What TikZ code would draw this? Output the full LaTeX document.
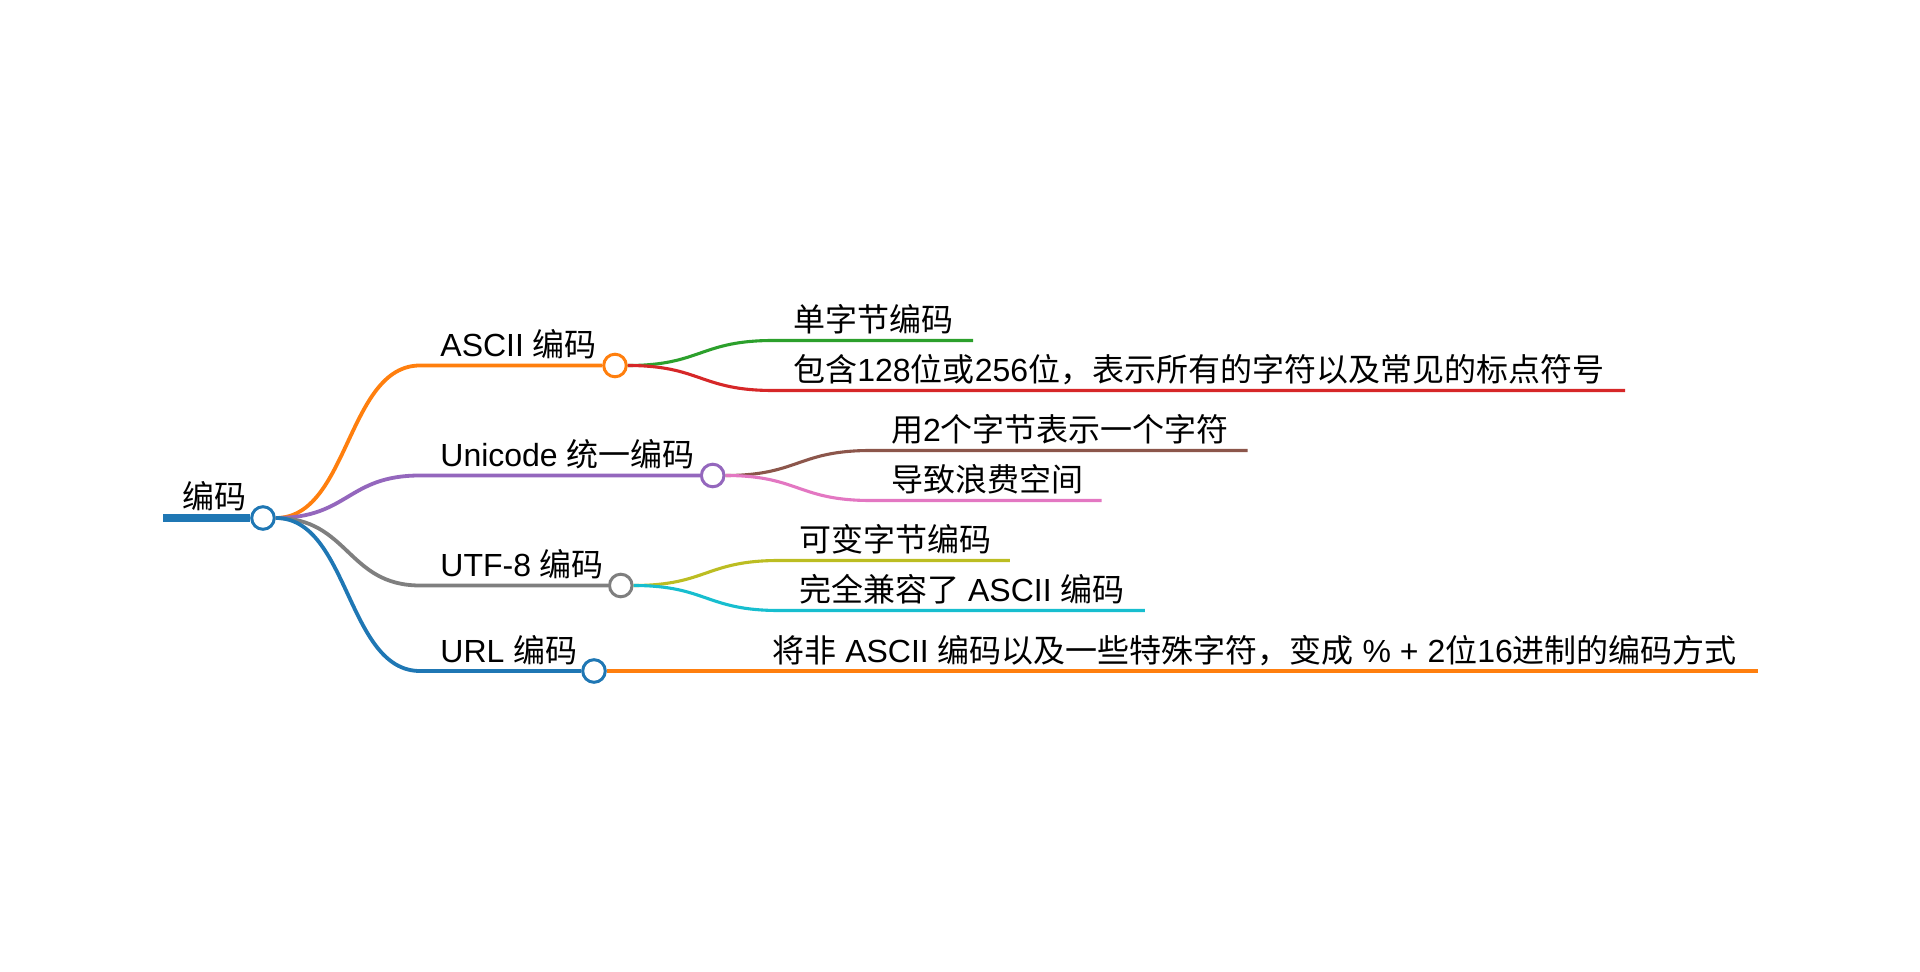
\documentclass[tikz,border=0pt]{standalone}
\usepackage{fontspec}
\setmainfont{Liberation Sans}
\newfontfamily\zh{Noto Sans CJK SC}
\usetikzlibrary{calc, positioning}

\definecolor{mmblue}{HTML}{1F77B4}
\definecolor{mmorange}{HTML}{FF7F0E}
\definecolor{mmgreen}{HTML}{2CA02C}
\definecolor{mmred}{HTML}{D62728}
\definecolor{mmpurple}{HTML}{9467BD}
\definecolor{mmbrown}{HTML}{8C564B}
\definecolor{mmpink}{HTML}{E377C2}
\definecolor{mmgray}{HTML}{7F7F7F}
\definecolor{mmolive}{HTML}{BCBD22}
\definecolor{mmcyan}{HTML}{17BECF}

\begin{document}
\begin{tikzpicture}[
    x=0.5pt, y=-0.5pt,
    font=\fontsize{16}{19}\selectfont,
    knob/.style={
        circle,
        draw=#1,
        fill=white,
        line width=1.5pt,
        inner sep=0pt,
        minimum size=11.3pt
    },
    trunk/.style={
        draw=#1,
        line width=1.9pt
    },
    twig/.style={
        draw=#1,
        line width=1.55pt
    },
    txt/.style={
        anchor=base west,
        inner sep=0pt
    }
]
    \useasboundingbox (0,0) rectangle (1920,972);

    % Root
    \coordinate (stem) at (163,518);
    \node [knob=mmblue] (root) at (263,518) {};
    \draw [line width=3.6pt, mmblue] (stem) -- (root);
    \node [txt] (topic) at ($(stem)+(19,-9)$) {\zh 编码};

    % First level
    \foreach \br/\x/\y/\col/\txt in {
        ascii/615/365.5/mmorange/{ASCII {\zh 编码}},
        unicode/712.7/475.5/mmpurple/{Unicode {\zh 统一编码}},
        utf/620.8/585.5/mmgray/{UTF-8 {\zh 编码}},
        url/594/671/mmblue/{URL {\zh 编码}}
    }{
        \node [knob=\col] (\br) at (\x,\y) {};
        \coordinate (\br-in) at (420,\y);
        \draw [trunk=\col] (root.east) .. controls +(73,0) and +(-73,0) .. (\br-in) -- (\br);
        \node [txt] (\br-text) at ($(\br-in)+(20,-9)$) {\txt};
    }

    % Second level
    \foreach \br/\dy/\run/\col/\txt [count=\k] in {
        ascii/-25/200/mmgreen/{\zh 单字节编码},
        ascii/25/852/mmred/{{\zh 包含}128{\zh 位或}256{\zh 位，表示所有的字符以及常见的标点符号}},
        unicode/-25/377/mmbrown/{{\zh 用}2{\zh 个字节表示一个字符}},
        unicode/25/231/mmpink/{\zh 导致浪费空间},
        utf/-25/231/mmolive/{\zh 可变字节编码},
        utf/25/366/mmcyan/{{\zh 完全兼容了} ASCII {\zh 编码}},
        url/0/1006/mmorange/{{\zh 将非} ASCII {\zh 编码以及一些特殊字符，变成} \% + 2{\zh 位}16{\zh 进制的编码方式}}
    }{
        \coordinate (leaf\k-in) at ($(\br)+(158,\dy)$);
        \draw [twig=\col] (\br.east) .. controls +(73,0) and +(-73,0) .. (leaf\k-in) -- ++(\run,0) coordinate (leaf\k-out);
        \node [txt] (leaf\k) at ($(leaf\k-in)+(20,-9)$) {\txt};
    }

\end{tikzpicture}
\end{document}
